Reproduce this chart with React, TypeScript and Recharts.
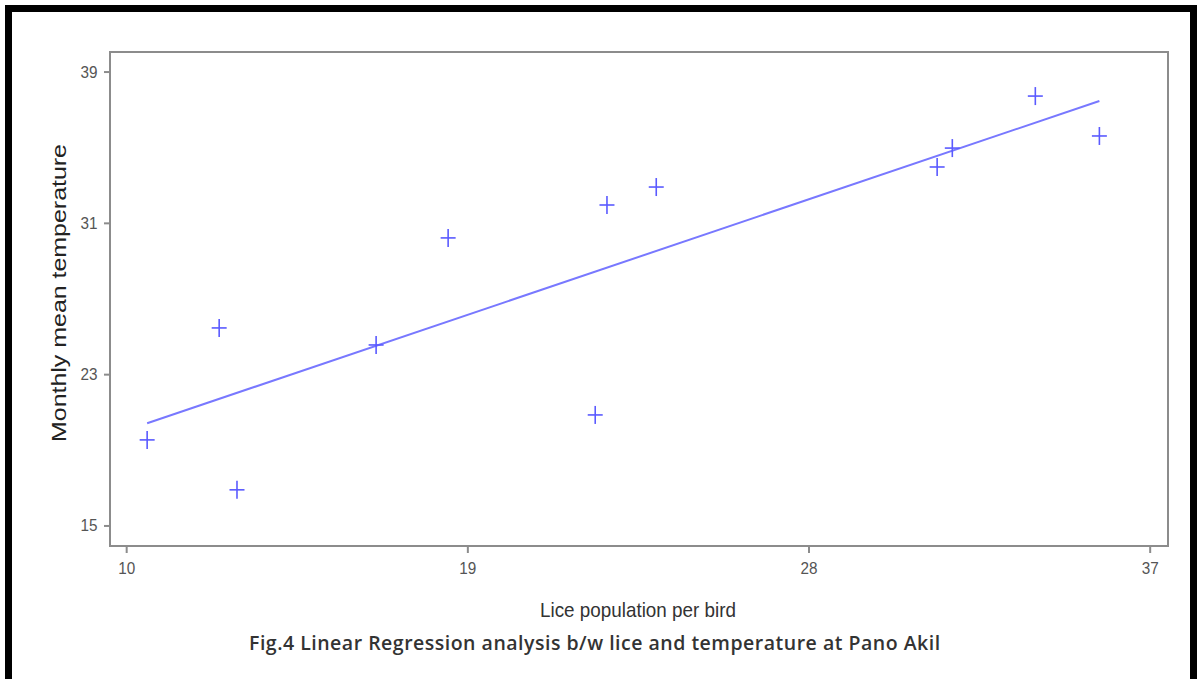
import {
    ReferenceArea,
    Scatter,
    ScatterChart,
    XAxis,
    YAxis,
} from "recharts";

// lice population per bird vs monthly mean temperature
const lice = [10.54, 12.44, 12.91, 16.58, 18.48, 22.36, 22.67, 23.97, 31.38, 31.78, 33.97, 35.66];
const temperature = [19.55, 25.47, 16.91, 24.57, 30.23, 20.87, 31.97, 32.92, 33.98, 34.98, 37.73, 35.62];

// fitted regression line endpoints
const fitLice = [10.54, 35.66];
const fitTemperature = [20.43, 37.47];

const xTicks = [10, 19, 28, 37];
const yTicks = [15, 23, 31, 39];
const xDomain = [9.56, 37.47];
const yDomain = [13.94, 40.06];

const points = lice.map((x, i) => ({ x, y: temperature[i] }));
const fit = fitLice.map((x, i) => ({ x, y: fitTemperature[i] }));

const MARK = "#5a5aff";
const FIT = "#7878ff";
const FRAME = "#8c8c8c";
const FONT = "'Liberation Sans', Arial, sans-serif";

const Cross = ({ cx, cy }: any) => (
    <g stroke={MARK} strokeWidth={1.6}>
        <line x1={cx - 7.5} y1={cy} x2={cx + 7.5} y2={cy} />
        <line x1={cx} y1={cy - 9} x2={cx} y2={cy + 9} />
    </g>
);

// narrow-looking tick numbers
const XTick = ({ x, y, payload }: any) => (
    <text
        x={x}
        y={y + 13}
        textAnchor="middle"
        dominantBaseline="central"
        fontFamily={FONT}
        fontSize={17}
        fill="#555"
        textLength={17}
        lengthAdjust="spacingAndGlyphs"
    >
        {payload.value}
    </text>
);

const YTick = ({ x, y, payload }: any) => (
    <text
        x={x - 13}
        y={y}
        textAnchor="middle"
        dominantBaseline="central"
        fontFamily={FONT}
        fontSize={17}
        fill="#555"
        textLength={17}
        lengthAdjust="spacingAndGlyphs"
    >
        {payload.value}
    </text>
);

const YLabel = () => {
    const x = 58;
    const y = 293;
    return (
        <text
            x={x}
            y={y}
            transform={`rotate(-90, ${x}, ${y})`}
            textAnchor="middle"
            dominantBaseline="central"
            fontFamily={FONT}
            fontSize={21}
            fill="#222"
            textLength={298}
            lengthAdjust="spacingAndGlyphs"
        >
            Monthly mean temperature
        </text>
    );
};

const XLabel = () => (
    <text
        x={638}
        y={609}
        textAnchor="middle"
        dominantBaseline="central"
        fontFamily={FONT}
        fontSize={21}
        fill="#333"
        textLength={196}
        lengthAdjust="spacingAndGlyphs"
    >
        Lice population per bird
    </text>
);

export default function App() {
    return (
        <div
            style={{
                position: "absolute",
                left: 0,
                top: 0,
                width: 1197,
                height: 679,
                overflow: "hidden",
                background: "#fff",
            }}
        >
            <div
                style={{
                    position: "absolute",
                    left: 5,
                    top: 5,
                    width: 1178,
                    height: 720,
                    border: "7px solid #000",
                }}
            />
            <div style={{ position: "absolute", left: 0, top: 0 }}>
                <ScatterChart
                    width={1197}
                    height={679}
                    margin={{ top: 52, right: 29, bottom: 93, left: 50 }}
                >
                    <XAxis
                        type="number"
                        dataKey="x"
                        domain={xDomain}
                        ticks={xTicks}
                        allowDataOverflow
                        height={40}
                        stroke={FRAME}
                        strokeWidth={2}
                        tickSize={7}
                        tick={<XTick />}
                        label={<XLabel />}
                    />
                    <YAxis
                        type="number"
                        dataKey="y"
                        domain={yDomain}
                        ticks={yTicks}
                        allowDataOverflow
                        width={60}
                        stroke={FRAME}
                        strokeWidth={2}
                        tickSize={6}
                        tick={<YTick />}
                        label={<YLabel />}
                    />
                    <ReferenceArea
                        x1={xDomain[0]}
                        x2={xDomain[1]}
                        y1={yDomain[0]}
                        y2={yDomain[1]}
                        fill="none"
                        stroke={FRAME}
                        strokeWidth={2}
                    />
                    <Scatter
                        data={fit}
                        line={{ stroke: FIT, strokeWidth: 2 }}
                        shape={() => <g />}
                        isAnimationActive={false}
                    />
                    <Scatter data={points} shape={<Cross />} isAnimationActive={false} />
                </ScatterChart>
            </div>
            <div
                style={{
                    position: "absolute",
                    left: 249,
                    top: 630,
                    fontFamily: "'Open Sans', 'Noto Sans', sans-serif",
                    fontWeight: 600,
                    fontSize: 19.5,
                    letterSpacing: 0.5,
                    lineHeight: "26px",
                    color: "#333",
                    whiteSpace: "nowrap",
                }}
            >
                Fig.4 Linear Regression analysis b/w lice and temperature at Pano Akil
            </div>
        </div>
    );
}
